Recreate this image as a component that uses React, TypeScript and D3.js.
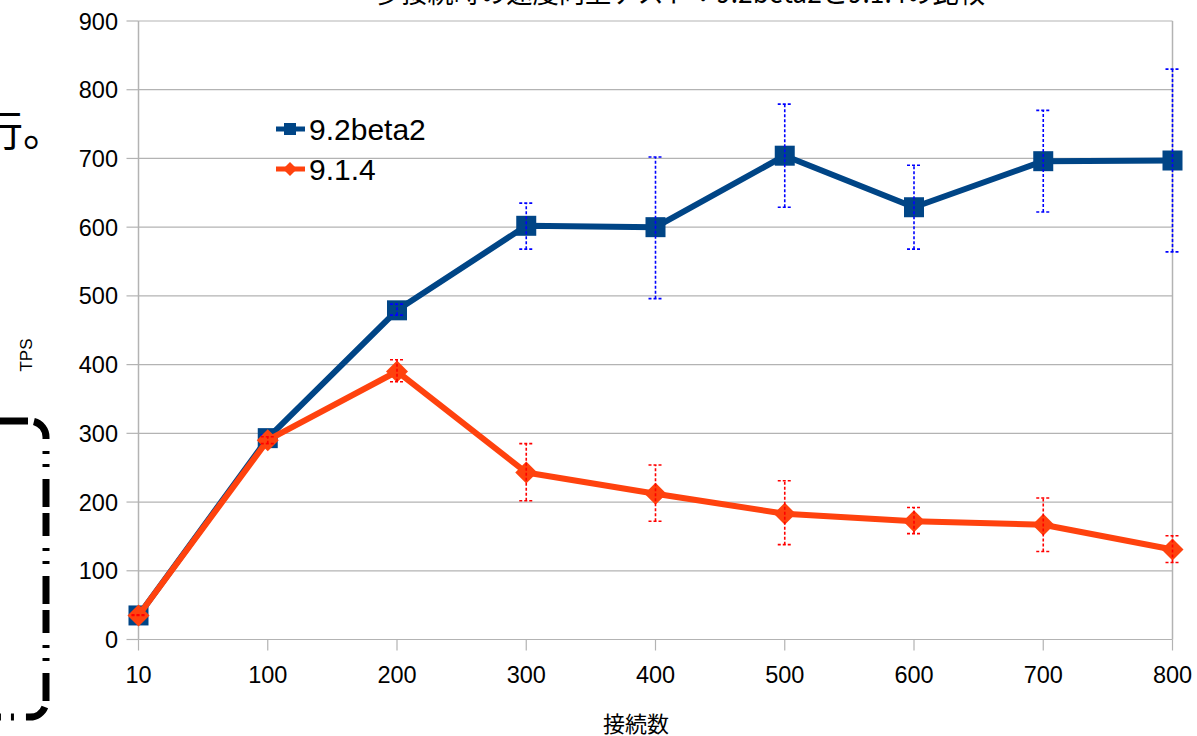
import React from "react";
import * as d3 from "d3";

const categories = ["10", "100", "200", "300", "400", "500", "600", "700", "800"];
const yTicks = [0, 100, 200, 300, 400, 500, 600, 700, 800, 900];

const betaValues = [35, 293, 479, 602, 600, 704, 629, 696, 697];
const betaLow = [33, 288, 472, 568, 496, 629, 568, 622, 564];
const betaHigh = [37, 298, 488, 635, 702, 779, 690, 770, 830];

const oldValues = [35, 290, 390, 243, 212, 183, 172, 167, 131];
const oldLow = [35, 285, 375, 202, 172, 138, 154, 128, 112];
const oldHigh = [36, 295, 407, 285, 254, 231, 192, 206, 151];

const seriesNames = ["9.2beta2", "9.1.4"];
const titleText = "多接続時の速度向上テスト：9.2beta2と9.1.4の比較";
const xTitle = "接続数";
const yTitle = "TPS";
const sideText = "実行。";

const BLUE = "#004586";
const ORANGE = "#ff420e";
const GRID = "#b3b3b3";
const LATIN = "'Liberation Sans', Arial, sans-serif";
const CJK = "'Noto Sans CJK JP', sans-serif";

export default function App() {
  const x = d3.scalePoint<string>().domain(categories).range([138.5, 1172.5]).padding(0);
  const y = d3.scaleLinear().domain([0, 900]).range([639.5, 21]);
  const line = d3
    .line<number>()
    .x((_, i) => x(categories[i]) as number)
    .y((d) => y(d));

  const left = 138.5;
  const right = 1172.5;
  const top = y(900);
  const bottom = y(0);

  const errorBars = (lo: number[], hi: number[], color: string, key: string) =>
    categories.map((c, i) => {
      const cx = x(c) as number;
      const y1 = y(lo[i]);
      const y2 = y(hi[i]);
      return (
        <g key={key + i} stroke={color} strokeWidth={1.6} strokeDasharray="3,2" fill="none">
          <line x1={cx} x2={cx} y1={y1} y2={y2} />
          <line x1={cx - 7} x2={cx + 7} y1={y1} y2={y1} />
          <line x1={cx - 7} x2={cx + 7} y1={y2} y2={y2} />
        </g>
      );
    });

  const diamond = (cx: number, cy: number, r: number) =>
    `M${cx},${cy - r}L${cx + r},${cy}L${cx},${cy + r}L${cx - r},${cy}Z`;

  return (
    <svg
      width={1197}
      height={736}
      style={{ position: "absolute", left: 0, top: 0, background: "#fff" }}
    >
      <rect x={0} y={0} width={1197} height={736} fill="#fff" />
      {/* title (cut off at top) */}
      <text
        x={680}
        y={3}
        textAnchor="middle"
        fontFamily={CJK}
        fontSize={28}
        fill="#000"
        textLength={610}
        lengthAdjust="spacingAndGlyphs"
      >
        {titleText}
      </text>

      {/* side text */}
      <text x={65} y={146} textAnchor="end" fontFamily={CJK} fontSize={42} fill="#000">
        {sideText}
      </text>

      {/* dashed rounded rectangle overlay */}
      <rect
        x={-60}
        y={421}
        width={106}
        height={296}
        rx={16}
        ry={16}
        fill="none"
        stroke="#000"
        strokeWidth={7}
        strokeDasharray="28,6,23,12,3,10,3,12"
        strokeDashoffset={53}
      />

      {/* grid lines */}
      {yTicks.map((t) => (
        <g key={"g" + t}>
          <line x1={left} x2={right} y1={y(t)} y2={y(t)} stroke={GRID} strokeWidth={1.2} />
          <line x1={left - 12} x2={left} y1={y(t)} y2={y(t)} stroke={GRID} strokeWidth={1.2} />
          <text
            x={118}
            y={y(t) + 8.5}
            textAnchor="end"
            fontFamily={LATIN}
            fontSize={23.5}
            fill="#000"
          >
            {t}
          </text>
        </g>
      ))}
      {/* axes frame */}
      <line x1={left} x2={left} y1={top} y2={bottom} stroke={GRID} strokeWidth={1.5} />
      <line x1={right} x2={right} y1={top} y2={bottom} stroke={GRID} strokeWidth={1.5} />
      {categories.map((c) => (
        <g key={"x" + c}>
          <line
            x1={x(c) as number}
            x2={x(c) as number}
            y1={bottom}
            y2={bottom + 11}
            stroke={GRID}
            strokeWidth={1.2}
          />
          <text
            x={x(c) as number}
            y={683}
            textAnchor="middle"
            fontFamily={LATIN}
            fontSize={23.5}
            fill="#000"
          >
            {c}
          </text>
        </g>
      ))}

      {/* axis titles */}
      <text x={636} y={732} textAnchor="middle" fontFamily={CJK} fontSize={22} fill="#000">
        {xTitle}
      </text>
      <text
        transform="translate(32,355) rotate(-90)"
        textAnchor="middle"
        fontFamily={LATIN}
        fontSize={17}
        fill="#000"
      >
        {yTitle}
      </text>

      {/* series 1 */}
      <path d={line(betaValues) || ""} fill="none" stroke={BLUE} strokeWidth={6} strokeLinejoin="round" />
      {betaValues.map((v, i) => (
        <rect
          key={"bm" + i}
          x={(x(categories[i]) as number) - 10}
          y={y(v) - 10}
          width={20}
          height={20}
          fill={BLUE}
        />
      ))}
      {errorBars(betaLow, betaHigh, "#0000ff", "be")}

      {/* series 2 */}
      <path d={line(oldValues) || ""} fill="none" stroke={ORANGE} strokeWidth={6} strokeLinejoin="round" />
      {oldValues.map((v, i) => (
        <path key={"om" + i} d={diamond(x(categories[i]) as number, y(v), 11)} fill={ORANGE} />
      ))}
      {errorBars(oldLow, oldHigh, "#ff0000", "oe")}

      {/* legend */}
      <line x1={276} x2={305} y1={129} y2={129} stroke={BLUE} strokeWidth={5} />
      <rect x={284} y={123} width={12} height={12} fill={BLUE} />
      <text x={309} y={140} fontFamily={LATIN} fontSize={30} fill="#000">
        {seriesNames[0]}
      </text>
      <line x1={276} x2={305} y1={169} y2={169} stroke={ORANGE} strokeWidth={5} />
      <path d={diamond(290, 169, 7)} fill={ORANGE} />
      <text x={309} y={180} fontFamily={LATIN} fontSize={30} fill="#000">
        {seriesNames[1]}
      </text>
    </svg>
  );
}
